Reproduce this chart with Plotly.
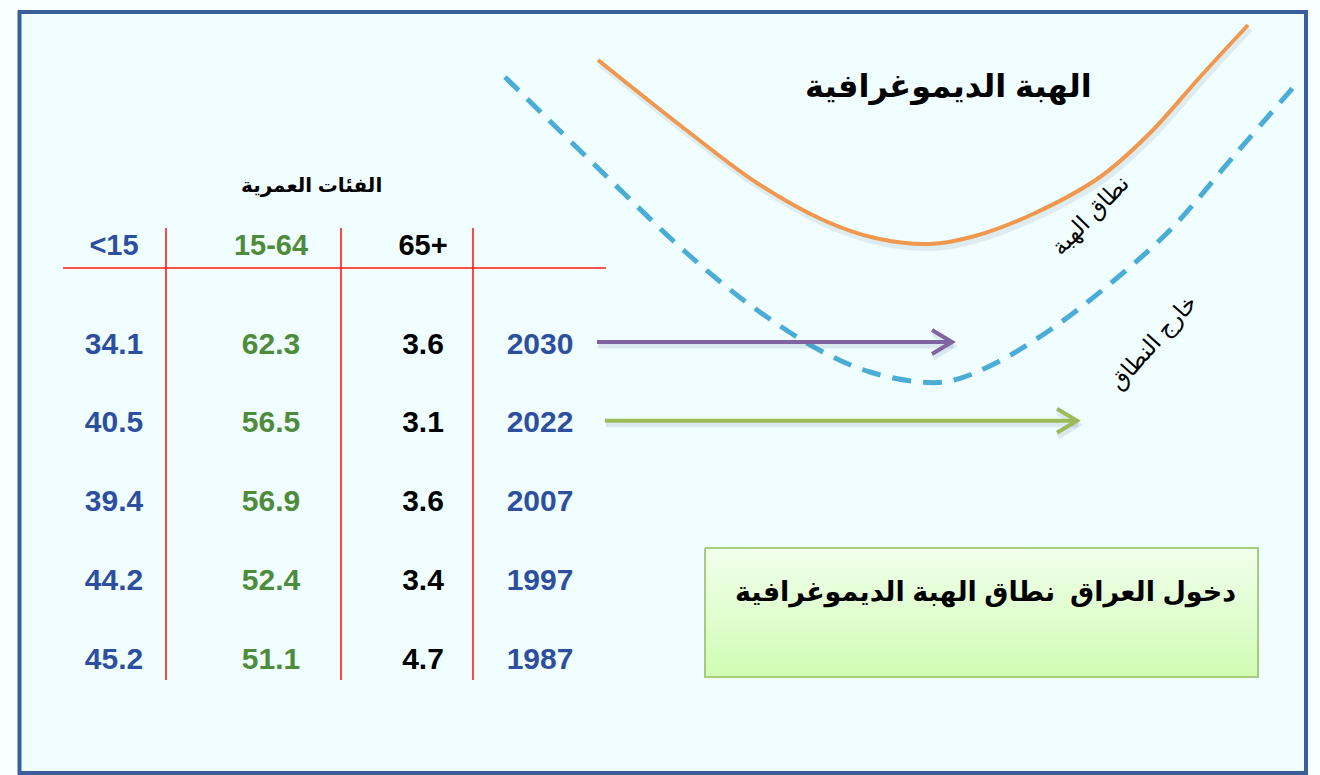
import plotly.graph_objects as go

# ---------------- data ----------------
years = ["2030", "2022", "2007", "1997", "1987"]
under15 = [34.1, 40.5, 39.4, 44.2, 45.2]
age15_64 = [62.3, 56.5, 56.9, 52.4, 51.1]
over65 = [3.6, 3.1, 3.6, 3.4, 4.7]
age_groups = ["<15", "15-64", "65+"]

group_title = "الفئات العمرية"
main_title = "الهبة الديموغرافية"
box_text = "دخول العراق  نطاق الهبة الديموغرافية"
zone_in_label = "نطاق الهبة"
zone_out_label = "خارج النطاق"

# illustrative curves (image pixel space)
window_curve_x = [598, 690, 757, 823, 875, 930, 975, 1033, 1100, 1150, 1200, 1248]
window_curve_y = [60, 133, 183, 220, 238, 244, 236, 214, 177, 133, 77, 25]
edge_curve_x = [505, 600, 690, 757, 823, 870, 920, 950, 990, 1050, 1117, 1173, 1233, 1297]
edge_curve_y = [77, 170, 256, 310, 352, 372, 382, 381, 366, 330, 278, 227, 157, 83]

arrow_years = ["2030", "2022"]
arrow_start_x = [597, 605]
arrow_end_x = [952, 1077]

# ---------------- layout constants ----------------
W, H = 1320, 775
BLUE_TXT = "#2D4F9E"
GREEN_TXT = "#4E8B3B"
col_x = [114, 271, 423]
col_colors = [BLUE_TXT, GREEN_TXT, "#000000"]
year_x = 540
row_y0, row_dy = 346, 78.8
header_y = 248
row_y = [row_y0 + i * row_dy for i in range(len(years))]
NUM_FONT = "Arial, Liberation Sans, sans-serif"
AR_FONT = "Arial, DejaVu Sans, sans-serif"
HEAD_LEN, HEAD_HALF = 20, 12

fig = go.Figure()

# soft shadows for curves
fig.add_trace(go.Scatter(x=[v + 2 for v in window_curve_x], y=[v + 4 for v in window_curve_y],
                         mode="lines", line=dict(color="rgba(60,80,120,0.10)", width=6, shape="spline"),
                         hoverinfo="skip", showlegend=False))
fig.add_trace(go.Scatter(x=window_curve_x, y=window_curve_y, mode="lines",
                         line=dict(color="#F0994E", width=4, shape="spline"),
                         hoverinfo="skip", showlegend=False))
fig.add_trace(go.Scatter(x=edge_curve_x, y=edge_curve_y, mode="lines",
                         line=dict(color="#4BADD6", width=5, shape="spline", dash="19px,12px"),
                         hoverinfo="skip", showlegend=False))

# green box with gradient
bx0, by0, bx1, by1 = 705, 548, 1258, 677
fig.add_shape(type="rect", x0=bx0 + 3, y0=by0 + 5, x1=bx1 + 3, y1=by1 + 5,
              line=dict(width=0), fillcolor="rgba(80,90,110,0.22)", layer="below")
fig.add_trace(go.Scatter(x=[bx0, bx1, bx1, bx0, bx0], y=[by0, by0, by1, by1, by0],
                         mode="lines", fill="toself",
                         fillgradient=dict(type="vertical",
                                           colorscale=[[0, "#F1FFEC"], [1, "#D0FCB4"]],
                                           start=by0, stop=by1),
                         line=dict(color="#A9CB7E", width=2),
                         hoverinfo="skip", showlegend=False))

# table lines
fig.add_shape(type="line", x0=63, x1=606, y0=268, y1=268, line=dict(color="#FF1A1A", width=1.6))
for vx in [166, 341, 473]:
    fig.add_shape(type="line", x0=vx, x1=vx, y0=228, y1=680, line=dict(color="#FF1A1A", width=1.6))

# column headers
for i, g in enumerate(age_groups):
    fig.add_trace(go.Scatter(x=[col_x[i]], y=[header_y], mode="text", text=[g],
                             textfont=dict(family=NUM_FONT, size=29, color=col_colors[i], weight="bold"),
                             hoverinfo="skip", showlegend=False))

# values
for i, series in enumerate([under15, age15_64, over65]):
    fig.add_trace(go.Scatter(x=[col_x[i]] * len(series), y=row_y, mode="text",
                             text=[f"{v:.1f}" for v in series],
                             textfont=dict(family=NUM_FONT, size=30, color=col_colors[i], weight="bold"),
                             hoverinfo="skip", showlegend=False))
fig.add_trace(go.Scatter(x=[year_x] * len(years), y=row_y, mode="text", text=years,
                         textfont=dict(family=NUM_FONT, size=30, color=BLUE_TXT, weight="bold"),
                         hoverinfo="skip", showlegend=False))

# arrows (shaft + open chevron head)
arrow_colors = ["#8064A2", "#9BBB59"]
for k, yr in enumerate(arrow_years):
    ry = row_y[years.index(yr)] - 4
    x0, x1 = arrow_start_x[k], arrow_end_x[k]
    xs = [x0, x1, None, x1 - HEAD_LEN, x1, x1 - HEAD_LEN]
    ys = [ry, ry, None, ry - HEAD_HALF, ry, ry + HEAD_HALF]
    fig.add_trace(go.Scatter(x=[v + 1 if v is not None else None for v in xs],
                             y=[v + 4 if v is not None else None for v in ys],
                             mode="lines", line=dict(color="rgba(60,80,120,0.12)", width=5),
                             hoverinfo="skip", showlegend=False))
    fig.add_trace(go.Scatter(x=xs, y=ys, mode="lines",
                             line=dict(color=arrow_colors[k], width=4),
                             hoverinfo="skip", showlegend=False))

# texts
fig.add_annotation(x=311, y=185, text=f"<b>{group_title}</b>", showarrow=False,
                   font=dict(family=AR_FONT, size=20, color="#000"))
fig.add_annotation(x=948, y=86, text=f"<b>{main_title}</b>", showarrow=False,
                   font=dict(family=AR_FONT, size=32, color="#000"))
fig.add_annotation(x=985, y=592, text=f"<b>{box_text}</b>", showarrow=False,
                   font=dict(family=AR_FONT, size=27, color="#000"))
fig.add_annotation(x=1090, y=215, text=zone_in_label, showarrow=False, textangle=-46,
                   font=dict(family=AR_FONT, size=23, color="#000"))
fig.add_annotation(x=1153, y=342, text=zone_out_label, showarrow=False, textangle=-48,
                   font=dict(family=AR_FONT, size=23, color="#000"))

# frame
fig.add_shape(type="rect", x0=19.5, y0=12, x1=1306, y1=773,
              line=dict(color="#3B5F9B", width=4), fillcolor="#F0FEFF", layer="below")

fig.update_xaxes(range=[0, W], visible=False, fixedrange=True)
fig.update_yaxes(range=[H, 0], visible=False, fixedrange=True)
fig.update_layout(width=W, height=H, margin=dict(l=0, r=0, t=0, b=0),
                  paper_bgcolor="#F9FFFF", plot_bgcolor="rgba(0,0,0,0)",
                  showlegend=False)

fig.write_html("out.html", config={"displayModeBar": False},
               post_script="document.body.style.margin='0';document.body.style.overflow='hidden';")
